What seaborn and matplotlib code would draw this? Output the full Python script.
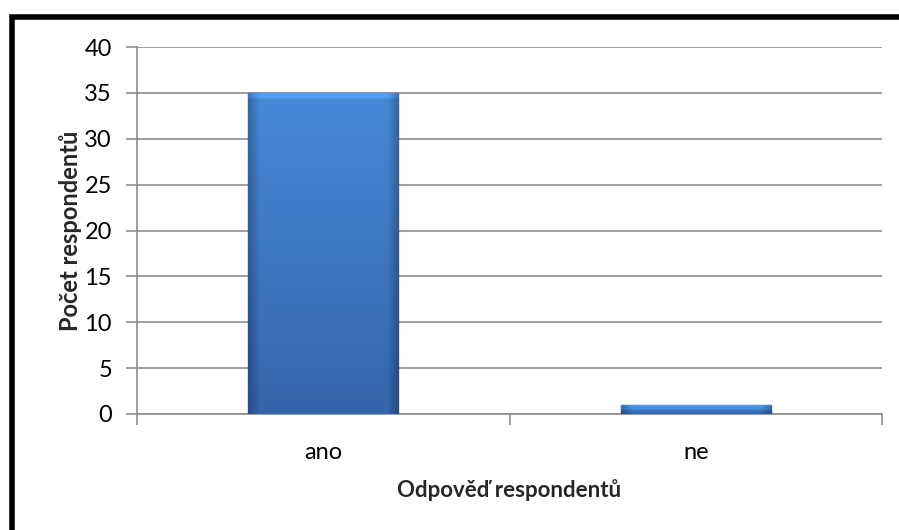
import matplotlib
matplotlib.use("Agg")
import matplotlib.pyplot as plt
import numpy as np
import seaborn as sns
from matplotlib.patches import Rectangle

# data
odpovedi = ["ano", "ne"]
pocty = [35, 1]

sns.set_theme(style="white")
plt.rcParams['font.family'] = ['Lato', 'DejaVu Sans']

fig = plt.figure(figsize=(8.99, 5.30), dpi=100)
ax = fig.add_axes([137 / 899, 1 - 414 / 530, (882 - 137) / 899, (414 - 47) / 530])

sns.barplot(x=odpovedi, y=pocty, ax=ax, color="#3f7fcf", width=0.403,
            edgecolor="#2f5e9e", linewidth=1.0, zorder=3)

# gradient vypln sloupcu - svisle tmavne, okraje trochu tmavsi
ny, nx = 200, 100
vert = np.linspace(1.0, 0.0, ny)[:, None]          # 1 nahore, 0 dole
horiz = np.abs(np.linspace(-1, 1, nx))[None, :]
edge = np.clip((horiz - 0.85) / 0.15, 0, 1)
top = np.array([0x46, 0x8a, 0xd8]) / 255
bot = np.array([0x35, 0x65, 0xab]) / 255
rgb = bot + (top - bot) * vert[..., None]
rgb = rgb * (1 - 0.25 * edge[..., None])
rgb = np.broadcast_to(rgb, (ny, nx, 3)).copy()

for p in ax.patches:
    x0, y0 = p.get_x(), p.get_y()
    w, h = p.get_width(), p.get_height()
    img = rgb.copy()
    # svetly pruh nahore (zkoseni)
    k = max(2, int(ny * min(0.6, 0.8 / max(h, 1))))
    img[:k] = np.minimum(img[:k] * 1.15, 1)
    im = ax.imshow(img, extent=[x0, x0 + w, y0, y0 + h],
                   aspect="auto", zorder=4, interpolation="bilinear")
    im.set_clip_path(p)

ax.set_xlim(-0.5, 1.5)
ax.set_ylim(0, 40)
ax.set_yticks(range(0, 41, 5))
ax.yaxis.grid(True, color="#8c8c8c", linewidth=1.2)
ax.set_axisbelow(True)

for s in ["top", "right"]:
    ax.spines[s].set_visible(False)
for s in ["left", "bottom"]:
    ax.spines[s].set_color("#8c8c8c")
    ax.spines[s].set_linewidth(1.2)

ax.tick_params(axis="y", left=True, length=8, width=1.2, color="#8c8c8c",
               labelsize=17, pad=10, labelcolor="black")
ax.tick_params(axis="x", bottom=False, labelsize=17, pad=14, labelcolor="black")
# hranice kategorii
ax.set_xticks([-0.5, 0.5, 1.5], minor=True)
ax.tick_params(axis="x", which="minor", bottom=True, length=8, width=1.2,
               color="#8c8c8c")

ax.set_ylabel("Počet respondentů", fontsize=17, fontweight="bold")
ax.yaxis.set_label_coords(-0.074, 0.5)
ax.set_xlabel("Odpověď respondentů", fontsize=16, fontweight="bold", labelpad=12)

# ramecek
fig.patches.append(Rectangle((12 / 899, -0.1), 1.1, 1 - 17 / 530 + 0.1,
                             transform=fig.transFigure, fill=False,
                             edgecolor="black", linewidth=4, zorder=10))

fig.savefig("out.png", dpi=100, facecolor="white")
